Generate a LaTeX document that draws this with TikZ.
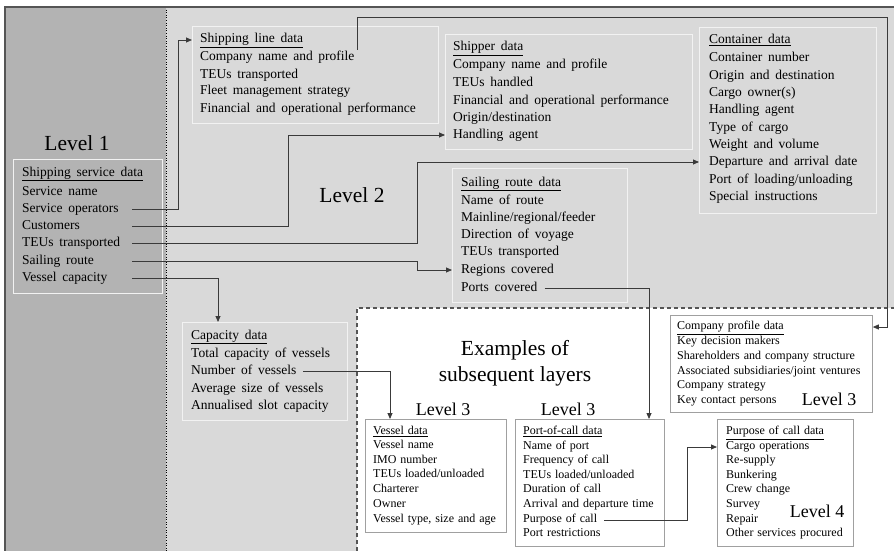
\documentclass[tikz,border=0pt]{standalone}
\usepackage{fontspec}
\setmainfont{Liberation Serif}
\usetikzlibrary{arrows.meta}
\definecolor{darkg}{HTML}{B3B3B3}
\definecolor{lightg}{HTML}{D9D9D9}
\definecolor{linec}{HTML}{3A3A3A}
\definecolor{boxw}{HTML}{F2F2F2}
\definecolor{boxg}{HTML}{A0A0A0}
\definecolor{framec}{HTML}{555555}
\newcommand\myrowfont{\fontsize{13.5}{16}\selectfont\spaceskip 0.42em\relax}
\newcommand\mysrowfont{\fontsize{12}{14}\selectfont\spaceskip 0.33em\relax}
\begin{document}
\begin{tikzpicture}[x=1pt,y=-1pt,
  row/.style={anchor=west,inner sep=0pt,text height=9pt,text depth=3pt,font=\myrowfont},
  srow/.style={anchor=west,inner sep=0pt,text height=8pt,text depth=2.5pt,font=\mysrowfont},
  gbox/.style={draw=boxw,line width=0.8pt,anchor=north west,inner sep=0pt},
  wbox/.style={draw=boxg,fill=white,line width=0.8pt,anchor=north west,inner sep=0pt},
  conn/.style={draw=linec,line width=0.8pt},
  arr/.style={conn,-{Triangle[length=6pt,width=5pt]}},
  biglabel/.style={font=\fontsize{21.5}{24}\selectfont,inner sep=0pt,anchor=base},
  midlabel/.style={font=\fontsize{18}{20}\selectfont,inner sep=0pt,anchor=base}]
\useasboundingbox (0,0) rectangle (894,551);
% backgrounds
\fill[lightg] (5,7) rectangle (894,551);
\fill[darkg] (5,7) rectangle (166,551);
\fill[white] (357,308) rectangle (894,551);
\draw[framec,line width=1.3pt,dash pattern=on 4pt off 3pt] (357,551) -- (357,308) -- (894,308);
\draw[black,line width=0.6pt,dotted] (166,7) -- (166,551);
\draw[framec,line width=1.2pt] (5,551) -- (5,7) -- (894,7);

% boxes
\node[gbox,minimum width=149pt,minimum height=134pt] (ssbox) at (13,159) {};
\node[gbox,minimum width=246pt,minimum height=97pt] (slbox) at (192,26) {};
\node[gbox,minimum width=247pt,minimum height=115pt] (shbox) at (445,34) {};
\node[gbox,minimum width=177pt,minimum height=186pt] (cobox) at (699,27) {};
\node[gbox,minimum width=175pt,minimum height=134pt] (srbox) at (452,168) {};
\node[gbox,minimum width=165pt,minimum height=98pt] (capbox) at (182,322) {};
\node[wbox,minimum width=141pt,minimum height=113pt] (vbox) at (365,419) {};
\node[wbox,minimum width=149pt,minimum height=127pt] (pbox) at (515,419) {};
\node[wbox,minimum width=136pt,minimum height=127pt] (pubox) at (717,419) {};
\node[wbox,minimum width=202pt,minimum height=97pt] (cpbox) at (670,315) {};

% labels
\node[biglabel] (lv1) at (77,150) {Level 1};
\node[biglabel] (lv2) at (352,202) {Level 2};
\node[biglabel] (ex1) at (515,355) {Examples of};
\node[biglabel] (ex2) at (515,381) {subsequent layers};
\node[midlabel] (lv3a) at (443,415) {Level 3};
\node[midlabel] (lv3b) at (568,415) {Level 3};
\node[midlabel] (lv3c) at (829,405) {Level 3};
\node[midlabel] (lv4) at (817,517) {Level 4};

% Level 1
\node[row] (ss0) at (22,173) {\underline{Shipping service data}};
\node[row] (ss1) at (22,192) {Service name};
\node[row] (ss2) at (22,209) {Service operators};
\node[row] (ss3) at (22,226) {Customers};
\node[row] (ss4) at (22,243) {TEUs transported};
\node[row] (ss5) at (22,261) {Sailing route};
\node[row] (ss6) at (22,278) {Vessel capacity};

% Shipping line
\node[row] (sl0) at (200,40) {\underline{Shipping line data}};
\node[row] (sl1) at (200,58) {Company name and profile};
\node[row] (sl2) at (200,75) {TEUs transported};
\node[row] (sl3) at (200,92) {Fleet management strategy};
\node[row] (sl4) at (200,109) {Financial and operational performance};

% Shipper
\node[row] (sh0) at (453,48) {\underline{Shipper data}};
\node[row] (sh1) at (453,66) {Company name and profile};
\node[row] (sh2) at (453,83) {TEUs handled};
\node[row] (sh3) at (453,101) {Financial and operational performance};
\node[row] (sh4) at (453,118) {Origin/destination};
\node[row] (sh5) at (453,135) {Handling agent};

% Container
\node[row] (co0) at (709,41) {\underline{Container data}};
\node[row] (co1) at (709,59) {Container number};
\node[row] (co2) at (709,76) {Origin and destination};
\node[row] (co3) at (709,93) {Cargo owner(s)};
\node[row] (co4) at (709,110) {Handling agent};
\node[row] (co5) at (709,128) {Type of cargo};
\node[row] (co6) at (709,145) {Weight and volume};
\node[row] (co7) at (709,162) {Departure and arrival date};
\node[row] (co8) at (709,180) {Port of loading/unloading};
\node[row] (co9) at (709,197) {Special instructions};

% Sailing route
\node[row] (sr0) at (461,183) {\underline{Sailing route data}};
\node[row] (sr1) at (461,201) {Name of route};
\node[row] (sr2) at (461,218) {Mainline/regional/feeder};
\node[row] (sr3) at (461,235) {Direction of voyage};
\node[row] (sr4) at (461,252) {TEUs transported};
\node[row] (sr5) at (461,270) {Regions covered};
\node[row] (sr6) at (461,288) {Ports covered};

% Capacity
\node[row] (cap0) at (191,336) {\underline{Capacity data}};
\node[row] (cap1) at (191,354) {Total capacity of vessels};
\node[row] (cap2) at (191,371) {Number of vessels};
\node[row] (cap3) at (191,389) {Average size of vessels};
\node[row] (cap4) at (191,406) {Annualised slot capacity};

% Vessel
\node[srow] (v0) at (373,432) {\underline{Vessel data}};
\node[srow] (v1) at (373,446) {Vessel name};
\node[srow] (v2) at (373,461) {IMO number};
\node[srow] (v3) at (373,475) {TEUs loaded/unloaded};
\node[srow] (v4) at (373,490) {Charterer};
\node[srow] (v5) at (373,505) {Owner};
\node[srow] (v6) at (373,520) {Vessel type, size and age};

% Port of call
\node[srow] (pc0) at (523,432) {\underline{Port-of-call data}};
\node[srow] (pc1) at (523,447) {Name of port};
\node[srow] (pc2) at (523,461) {Frequency of call};
\node[srow] (pc3) at (523,476) {TEUs loaded/unloaded};
\node[srow] (pc4) at (523,490) {Duration of call};
\node[srow] (pc5) at (523,505) {Arrival and departure time};
\node[srow] (pc6) at (523,520) {Purpose of call};
\node[srow] (pc7) at (523,534) {Port restrictions};

% Purpose of call
\node[srow] (pu0) at (726,432) {\underline{Purpose of call data}};
\node[srow] (pu1) at (726,447) {Cargo operations};
\node[srow] (pu2) at (726,461) {Re-supply};
\node[srow] (pu3) at (726,476) {Bunkering};
\node[srow] (pu4) at (726,490) {Crew change};
\node[srow] (pu5) at (726,505) {Survey};
\node[srow] (pu6) at (726,520) {Repair};
\node[srow] (pu7) at (726,534) {Other services procured};

% Company profile
\node[srow] (cp0) at (677,327) {\underline{Company profile data}};
\node[srow] (cp1) at (677,342) {Key decision makers};
\node[srow] (cp2) at (677,357) {Shareholders and company structure};
\node[srow] (cp3) at (677,372) {Associated subsidiaries/joint ventures};
\node[srow] (cp4) at (677,386) {Company strategy};
\node[srow] (cp5) at (677,401) {Key contact persons};

% connectors
\coordinate (l1x) at (132,0);
\coordinate (slout) at (357,50);
\draw[arr] (ss2 -| l1x) -| (178,0 |- sl0) -- (sl0 -| slbox.west);
\draw[arr] (ss3 -| l1x) -| (288,0 |- sh5) -- (sh5 -| shbox.west);
\draw[arr] (ss4 -| l1x) -| (417,0 |- co7) -- (co7 -| cobox.west);
\draw[arr] (ss5 -| l1x) -| (417,0 |- sr5) -- (sr5 -| srbox.west);
\draw[arr] (ss6 -| l1x) -| (capbox.north -| 218,0);
\draw[arr] (slout) |- (887,17) |- (cp0 -| cpbox.east);
\draw[arr] ([xshift=7pt]cap2.east) -| (vbox.north -| 390,0);
\draw[arr] ([xshift=7pt]sr6.east) -| (pbox.north -| 649,0);
\draw[arr] ([xshift=7pt]pc6.east) -| (687,0 |- pu1) -- (pu1 -| pubox.west);
\end{tikzpicture}
\end{document}
